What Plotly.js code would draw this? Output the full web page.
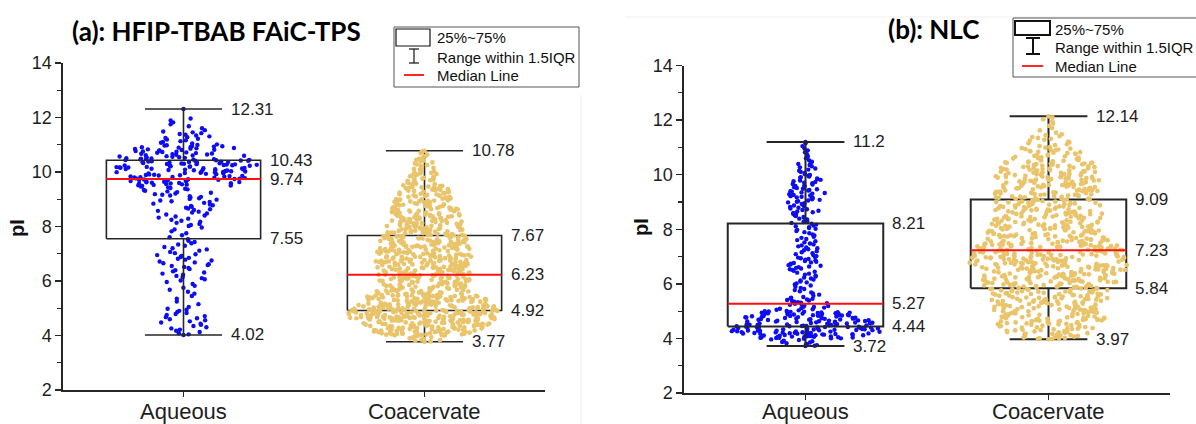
<!DOCTYPE html>
<html><head><meta charset="utf-8">
<script src="https://cdn.plot.ly/plotly-3.0.1.min.js"></script>
<style>html,body{margin:0;padding:0;background:#fff}#chart{width:1196px;height:424px}</style>
</head><body><div id="chart"></div>
<script>
// ---------------- data ----------------
const categories = ['Aqueous', 'Coacervate'];
const panelTitles = ['(a): HFIP-TBAB FAiC-TPS', '(b): NLC'];
const yTitle = 'pI';
const yTicks = [2, 4, 6, 8, 10, 12, 14];
const legendLabels = ['25%~75%', 'Range within 1.5IQR', 'Median Line'];

// box statistics: [lower whisker, Q1, median, Q3, upper whisker]
const statsA_aqueous    = [4.02, 7.55, 9.74, 10.43, 12.31];
const statsA_coacervate = [3.77, 4.92, 6.23, 7.67, 10.78];
const statsB_aqueous    = [3.72, 4.44, 5.27, 8.21, 11.2];
const statsB_coacervate = [3.97, 5.84, 7.23, 9.09, 12.14];

// point counts per 0.5-wide pI bin, read from the point clouds
const binWidth = 0.5;
const binStartA_aqueous = 4.0;
const countsA_aqueous = [11, 13, 5, 7, 12, 15, 11, 7, 13, 17, 20, 48, 60, 40, 17, 7];
const binStartA_coacervate = 3.5;
const countsA_coacervate = [10, 95, 130, 105, 63, 72, 75, 70, 63, 54, 46, 36, 24, 15, 5];
const binStartB_aqueous = 3.5;
const countsB_aqueous = [12, 85, 70, 25, 12, 14, 20, 14, 12, 16, 18, 22, 20, 12, 7, 2];
const binStartB_coacervate = 3.5;
const countsB_coacervate = [3, 40, 55, 60, 60, 75, 80, 75, 62, 55, 52, 50, 58, 48, 30, 15, 6, 2];

// ---------------- helpers ----------------
const BLUE = '#0c0cf5', GOLD = '#E9C46A', INK = '#262626';
const BOX_HW = 0.32, CAP_HW = 0.16;

// deterministic jitter offset (layout only) in [0,1)
function jit(i) { const s = Math.sin(i * 12.9898 + 78.233) * 43758.5453; return s - Math.floor(s); }

function cloud(stats, binStart, counts, center, maxHW, expo, seed) {
  const lo0 = stats[0], hi0 = stats[4];
  const nmax = Math.max(...counts);
  const c = k => counts[Math.min(Math.max(k, 0), counts.length - 1)];
  const dens = y => {
    const t = (y - binStart) / binWidth - 0.5;
    const k = Math.floor(t), f = t - k;
    return c(k) * (1 - f) + c(k + 1) * f;
  };
  const xs = [], ys = [];
  let g = seed;
  counts.forEach((n, k) => {
    const lo = Math.max(binStart + k * binWidth, lo0);
    const hi = Math.min(binStart + (k + 1) * binWidth, hi0);
    for (let j = 0; j < n; j++) {
      g++;
      const y = lo + (j + 0.5) / n * (hi - lo);
      const w = Math.max(maxHW * Math.pow(dens(y) / nmax, expo), 0.012);
      xs.push(center + (2 * jit(g) - 1) * w);
      ys.push(y);
    }
  });
  xs.push(center, center); ys.push(lo0, hi0);
  return {xs, ys};
}

function boxLines(stats, center) {
  const [mn, q1, md, q3, mx] = stats;
  const L = center - BOX_HW, R = center + BOX_HW;
  const x = [L, R, R, L, L, null, center, center, null, center, center, null,
             center - CAP_HW, center + CAP_HW, null, center - CAP_HW, center + CAP_HW];
  const y = [q1, q1, q3, q3, q1, null, q3, mx, null, q1, mn, null, mx, mx, null, mn, mn];
  return {x, y};
}

function panelTraces(sAq, bsAq, cAq, eAq, sCo, bsCo, cCo, eCo, xa, ya, lw, seed) {
  const out = [];
  const bl = boxLines(sCo, 2);
  out.push({type: 'scatter', mode: 'lines', x: bl.x, y: bl.y, xaxis: xa, yaxis: ya,
            line: {color: INK, width: lw}, hoverinfo: 'skip'});
  const gc = cloud(sCo, bsCo, cCo, 2, 0.325, eCo, seed + 5000);
  out.push({type: 'scatter', mode: 'markers', x: gc.xs, y: gc.ys, xaxis: xa, yaxis: ya,
            marker: {color: GOLD, size: 4.7, line: {width: 0}}, hoverinfo: 'skip'});
  const bc = cloud(sAq, bsAq, cAq, 1, 0.315, eAq, seed);
  out.push({type: 'scatter', mode: 'markers', x: bc.xs, y: bc.ys, xaxis: xa, yaxis: ya,
            marker: {color: BLUE, size: 4.4, line: {width: 0}}, hoverinfo: 'skip'});
  const bl2 = boxLines(sAq, 1);
  out.push({type: 'scatter', mode: 'lines', x: bl2.x, y: bl2.y, xaxis: xa, yaxis: ya,
            line: {color: INK, width: lw}, hoverinfo: 'skip'});
  out.push({type: 'scatter', mode: 'lines', xaxis: xa, yaxis: ya,
            x: [1 - BOX_HW, 1 + BOX_HW, null, 2 - BOX_HW, 2 + BOX_HW],
            y: [sAq[2], sAq[2], null, sCo[2], sCo[2]],
            line: {color: '#ff1010', width: 2}, hoverinfo: 'skip'});
  return out;
}

function statLabels(stats, center, xa, ya) {
  const mk = (v, dx) => ({xref: xa, yref: ya, x: center + dx, y: v, text: String(v),
    xanchor: 'left', yanchor: 'middle', xshift: 7, showarrow: false,
    font: {size: 17, color: '#1e1e1e', family: 'Liberation Sans, Arial, sans-serif'}});
  return [mk(stats[4], CAP_HW), mk(stats[3], BOX_HW), mk(stats[2], BOX_HW),
          mk(stats[1], BOX_HW), mk(stats[0], CAP_HW)];
}

const px = v => v / 1196, py = v => 1 - v / 424;

function legendShapes(bx0, by0, bx1, by1, ix0, iy0, ix1, iy1, icx, capT, capB, capHalf, rx0, rx1, ry, lw) {
  const P = {xref: 'paper', yref: 'paper'};
  return [
    {...P, type: 'rect', x0: px(bx0), y0: py(by0), x1: px(bx1), y1: py(by1), line: {color: '#555', width: 1}, fillcolor: 'rgba(0,0,0,0)'},
    {...P, type: 'rect', x0: px(ix0), y0: py(iy0), x1: px(ix1), y1: py(iy1), line: {color: '#111', width: lw}, fillcolor: 'rgba(0,0,0,0)'},
    {...P, type: 'line', x0: px(icx), y0: py(capT), x1: px(icx), y1: py(capB), line: {color: '#111', width: lw}},
    {...P, type: 'line', x0: px(icx - capHalf), y0: py(capT), x1: px(icx + capHalf), y1: py(capT), line: {color: '#111', width: lw}},
    {...P, type: 'line', x0: px(icx - capHalf), y0: py(capB), x1: px(icx + capHalf), y1: py(capB), line: {color: '#111', width: lw}},
    {...P, type: 'line', x0: px(rx0), y0: py(ry), x1: px(rx1), y1: py(ry), line: {color: '#ff1010', width: 1.8}}
  ];
}
function legendTexts(tx, ys) {
  return legendLabels.map((t, i) => ({xref: 'paper', yref: 'paper', x: px(tx), y: py(ys[i]), text: t,
    xanchor: 'left', yanchor: 'middle', showarrow: false,
    font: {size: 15, color: '#111', family: 'Liberation Sans, Arial, sans-serif'}}));
}
function categoryLabels(xa) {
  return categories.map((t, i) => ({xref: xa, yref: 'paper', x: i + 1, y: py(411), text: t,
    xanchor: 'center', yanchor: 'middle', showarrow: false,
    font: {size: 22, color: '#1e1e1e', family: 'Liberation Sans, Arial, sans-serif'}}));
}

// ---------------- build ----------------
const traces = [
  ...panelTraces(statsA_aqueous, binStartA_aqueous, countsA_aqueous, 0.7,
                 statsA_coacervate, binStartA_coacervate, countsA_coacervate, 0.85, 'x', 'y', 1.6, 11),
  ...panelTraces(statsB_aqueous, binStartB_aqueous, countsB_aqueous, 1.0,
                 statsB_coacervate, binStartB_coacervate, countsB_coacervate, 0.85, 'x2', 'y2', 2, 20011)
];

const axisCommon = {showgrid: false, zeroline: false, showline: true, linecolor: INK, linewidth: 1.6,
  ticks: 'outside', ticklen: 6, tickwidth: 1.5, tickcolor: INK, fixedrange: true};
const xAx = dom => ({...axisCommon, domain: dom, range: [0.5, 2.5], tickvals: [1, 2],
  ticklen: 5, showticklabels: false});
const yAx = dom => ({...axisCommon, domain: dom, range: [2, 14], tickvals: yTicks, ticktext: yTicks.map(String),
  tickfont: {size: 18, color: '#1e1e1e'},
  minor: {dtick: 1, tick0: 0, ticks: 'outside', ticklen: 4, tickwidth: 1.2, tickcolor: INK}});

const titleFont = {family: 'Lato, "Open Sans", sans-serif', size: 26, color: '#000', weight: 'bold'};
const annotations = [
  ...statLabels(statsA_aqueous, 1, 'x', 'y'),
  ...statLabels(statsA_coacervate, 2, 'x', 'y'),
  ...statLabels(statsB_aqueous, 1, 'x2', 'y2'),
  ...statLabels(statsB_coacervate, 2, 'x2', 'y2'),
  ...categoryLabels('x'),
  ...categoryLabels('x2'),
  {xref: 'paper', yref: 'paper', x: px(216), y: py(31), text: '<b>' + panelTitles[0] + '</b>', showarrow: false,
   xanchor: 'center', yanchor: 'middle', font: titleFont},
  {xref: 'paper', yref: 'paper', x: px(933), y: py(29), text: '<b>' + panelTitles[1] + '</b>', showarrow: false,
   xanchor: 'center', yanchor: 'middle', font: titleFont},
  {xref: 'paper', yref: 'paper', x: px(17), y: py(228), text: '<b>' + yTitle + '</b>', textangle: -90, showarrow: false,
   xanchor: 'center', yanchor: 'middle', font: {size: 20, color: '#111', family: 'Liberation Sans, Arial, sans-serif'}},
  {xref: 'paper', yref: 'paper', x: px(641), y: py(227), text: '<b>' + yTitle + '</b>', textangle: -90, showarrow: false,
   xanchor: 'center', yanchor: 'middle', font: {size: 20, color: '#111', family: 'Liberation Sans, Arial, sans-serif'}},
  ...legendTexts(435, [37, 57, 76]),
  ...legendTexts(1053, [29, 47, 66])
];

const shapes = [
  {xref: 'paper', yref: 'paper', type: 'line', x0: px(581), y0: py(95), x1: px(581), y1: py(424), line: {color: '#ececec', width: 1}},
  {xref: 'paper', yref: 'paper', type: 'line', x0: px(625), y0: py(17), x1: px(1196), y1: py(17), line: {color: '#efefef', width: 1}},
  ...legendShapes(394, 27, 579, 87, 396, 29, 430, 46, 414, 49, 63, 5, 404, 424, 75, 1.2),
  ...legendShapes(1013, 18, 1199, 77, 1015, 21, 1050, 35, 1033, 38, 54, 7, 1022, 1043, 66, 2)
];

const layout = {
  width: 1196, height: 424, margin: {l: 0, r: 0, t: 0, b: 0},
  paper_bgcolor: '#fff', plot_bgcolor: '#fff', showlegend: false,
  font: {family: 'Liberation Sans, Arial, sans-serif', color: '#1e1e1e'},
  xaxis: {...xAx([63 / 1196, 545 / 1196]), anchor: 'y'},
  yaxis: {...yAx([1 - 390 / 424, 1 - 63 / 424]), anchor: 'x'},
  xaxis2: {...xAx([684 / 1196, 1170 / 1196]), anchor: 'y2'},
  yaxis2: {...yAx([1 - 393 / 424, 1 - 65.6 / 424]), anchor: 'x2'},
  annotations, shapes
};

Plotly.newPlot('chart', traces, layout, {staticPlot: true, displayModeBar: false});
</script>
</body></html>
